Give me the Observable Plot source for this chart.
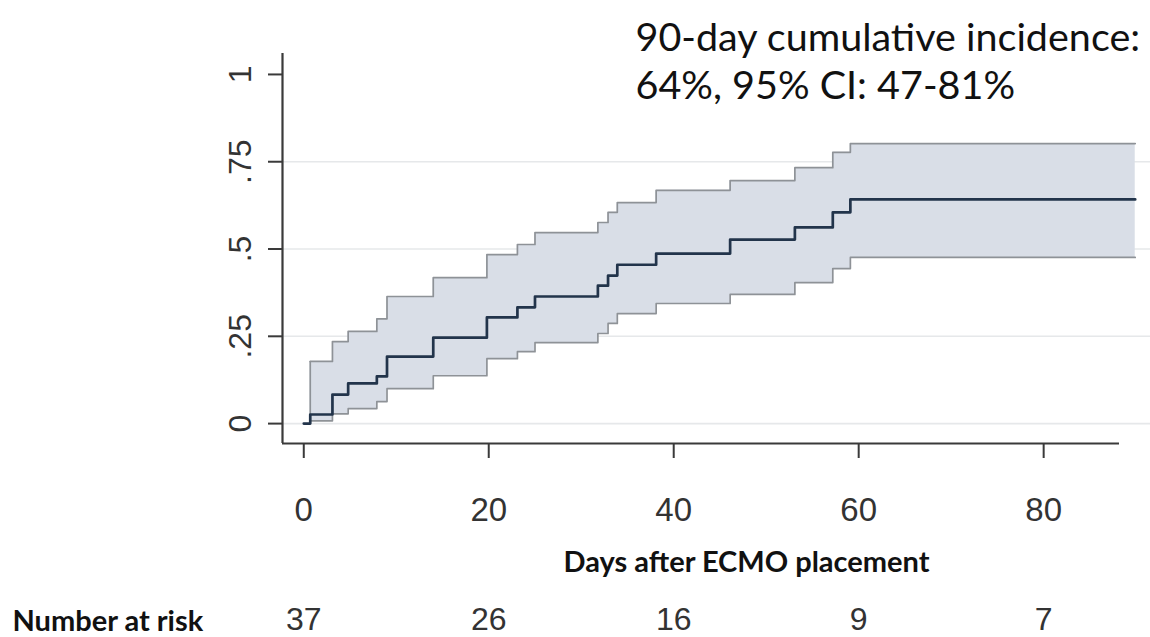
<!DOCTYPE html>
<html>
<head>
<meta charset="utf-8">
<script src="https://cdn.jsdelivr.net/npm/d3@7"></script>
<script src="https://cdn.jsdelivr.net/npm/@observablehq/plot@0.6"></script>
<style>
  html, body { margin: 0; padding: 0; background: #fff; }
  #chart svg { display: block; background: #fff; }
</style>
</head>
<body>
<div id="chart"></div>
<script>
// ---- data ----
const days  = [0, 0.7, 3.1, 4.8, 7.9, 9.0, 14.0, 19.8, 23.1, 25.0, 31.8, 32.9, 33.9, 38.1, 46.1, 53.1, 57.2, 59.1];
const cif   = [0, 0.026, 0.083, 0.115, 0.135, 0.192, 0.246, 0.304, 0.333, 0.364, 0.395, 0.424, 0.455, 0.487, 0.527, 0.562, 0.605, 0.642];
const upper = [0, 0.178, 0.235, 0.264, 0.300, 0.364, 0.418, 0.484, 0.513, 0.547, 0.576, 0.605, 0.633, 0.668, 0.696, 0.733, 0.777, 0.802];
const lower = [0, 0.008, 0.028, 0.043, 0.063, 0.100, 0.137, 0.186, 0.206, 0.232, 0.258, 0.287, 0.315, 0.344, 0.370, 0.404, 0.444, 0.476];
const endDay = 89.9;
const xTicks = [0, 20, 40, 60, 80];
const yTicks = [0, 0.25, 0.5, 0.75, 1];
const yTickLabels = ["0", ".25", ".5", ".75", "1"];
const gridValues = [0, 0.25, 0.5, 0.75];
const atRisk = [37, 26, 16, 9, 7];
const titleLines = ["90-day cumulative incidence:", "64%, 95% CI: 47-81%"];
const xLabel = "Days after ECMO placement";
const riskLabel = "Number at risk";

// ---- derived tables ----
const rows = days.map((d, i) => ({day: d, cif: cif[i], lo: lower[i], hi: upper[i]}));
const last = rows[rows.length - 1];
rows.push({day: endDay, cif: last.cif, lo: last.lo, hi: last.hi});
const band = rows.slice(1);

const xMin = -2.3, xMax = 88.2;
const yMin = -0.057, yMax = 1.06;
const axisColor = "#3a3a3a";
const numFont = "Liberation Sans, Arial, sans-serif";
const labFont = "Lato, 'Open Sans', sans-serif";

const chart = Plot.plot({
  width: 1150,
  height: 637,
  marginTop: 53,
  marginBottom: 194,
  marginLeft: 282,
  marginRight: 31,
  x: {domain: [xMin, xMax]},
  y: {domain: [yMin, yMax]},
  style: {background: "#fff"},
  marks: [
    // gridlines
    Plot.ruleY(gridValues, {y: d => d, x1: xMin + 0.1, x2: 92, stroke: "#e6e8ea", strokeWidth: 1.6}),
    // confidence band
    Plot.areaY(band, {x: "day", y1: "lo", y2: "hi", curve: "step-after", fill: "#d9dee7"}),
    Plot.lineY(band, {x: "day", y: "hi", curve: "step-after", stroke: "#8e9297", strokeWidth: 1.7}),
    Plot.lineY(band, {x: "day", y: "lo", curve: "step-after", stroke: "#8e9297", strokeWidth: 1.7}),
    Plot.ruleX([band[0]], {x: "day", y1: "lo", y2: "hi", stroke: "#8e9297", strokeWidth: 1.7}),
    // cumulative incidence
    Plot.lineY(rows, {x: "day", y: "cif", curve: "step-after", stroke: "#22344b", strokeWidth: 2.7}),
    // axes lines
    Plot.ruleY([yMin], {x1: xMin, x2: xMax, stroke: axisColor, strokeWidth: 2.2}),
    Plot.ruleX([xMin], {y1: yMin, y2: yMax, stroke: axisColor, strokeWidth: 2.2}),
    // ticks
    Plot.axisX({ticks: xTicks, tickSize: 15, tickFormat: () => "", label: null, stroke: axisColor, strokeWidth: 2}),
    Plot.axisY({ticks: yTicks, tickSize: 14, tickFormat: () => "", label: null, stroke: axisColor, strokeWidth: 2}),
    // tick labels
    Plot.text(xTicks, {x: d => d, text: d => String(d), frameAnchor: "bottom", dy: 67, lineAnchor: "middle",
      fontSize: 33, fontFamily: numFont, fill: "#333"}),
    Plot.text(yTicks, {y: d => d, text: (d, i) => yTickLabels[i], frameAnchor: "left", dx: -42, rotate: -90,
      lineAnchor: "middle", textAnchor: "middle", fontSize: 32, fontFamily: numFont, fill: "#333"}),
    // x label
    Plot.text([xLabel], {text: d => d, frameAnchor: "bottom", dx: 45.5, dy: 119, lineAnchor: "middle",
      fontSize: 29, fontWeight: "bold", fontFamily: labFont, fill: "#111"}),
    // number at risk
    Plot.text([riskLabel], {text: d => d, frameAnchor: "bottom-left", dx: -270, dy: 178, textAnchor: "start",
      lineAnchor: "middle", fontSize: 29, fontWeight: "bold", fontFamily: labFont, fill: "#111"}),
    Plot.text(atRisk, {x: (d, i) => xTicks[i], text: d => String(d), frameAnchor: "bottom", dy: 176,
      lineAnchor: "middle", fontSize: 32, fontFamily: numFont, fill: "#333"}),
    // title annotation
    Plot.text([titleLines[0]], {text: d => d, frameAnchor: "top-left", dx: 353, dy: -15.5, textAnchor: "start",
      lineAnchor: "middle", fontSize: 39.5, fontFamily: labFont, fill: "#111"}),
    Plot.text([titleLines[1]], {text: d => d, frameAnchor: "top-left", dx: 353, dy: 33, textAnchor: "start",
      lineAnchor: "middle", fontSize: 39.5, fontFamily: labFont, fill: "#111"})
  ]
});
document.getElementById("chart").appendChild(chart);
</script>
</body>
</html>
